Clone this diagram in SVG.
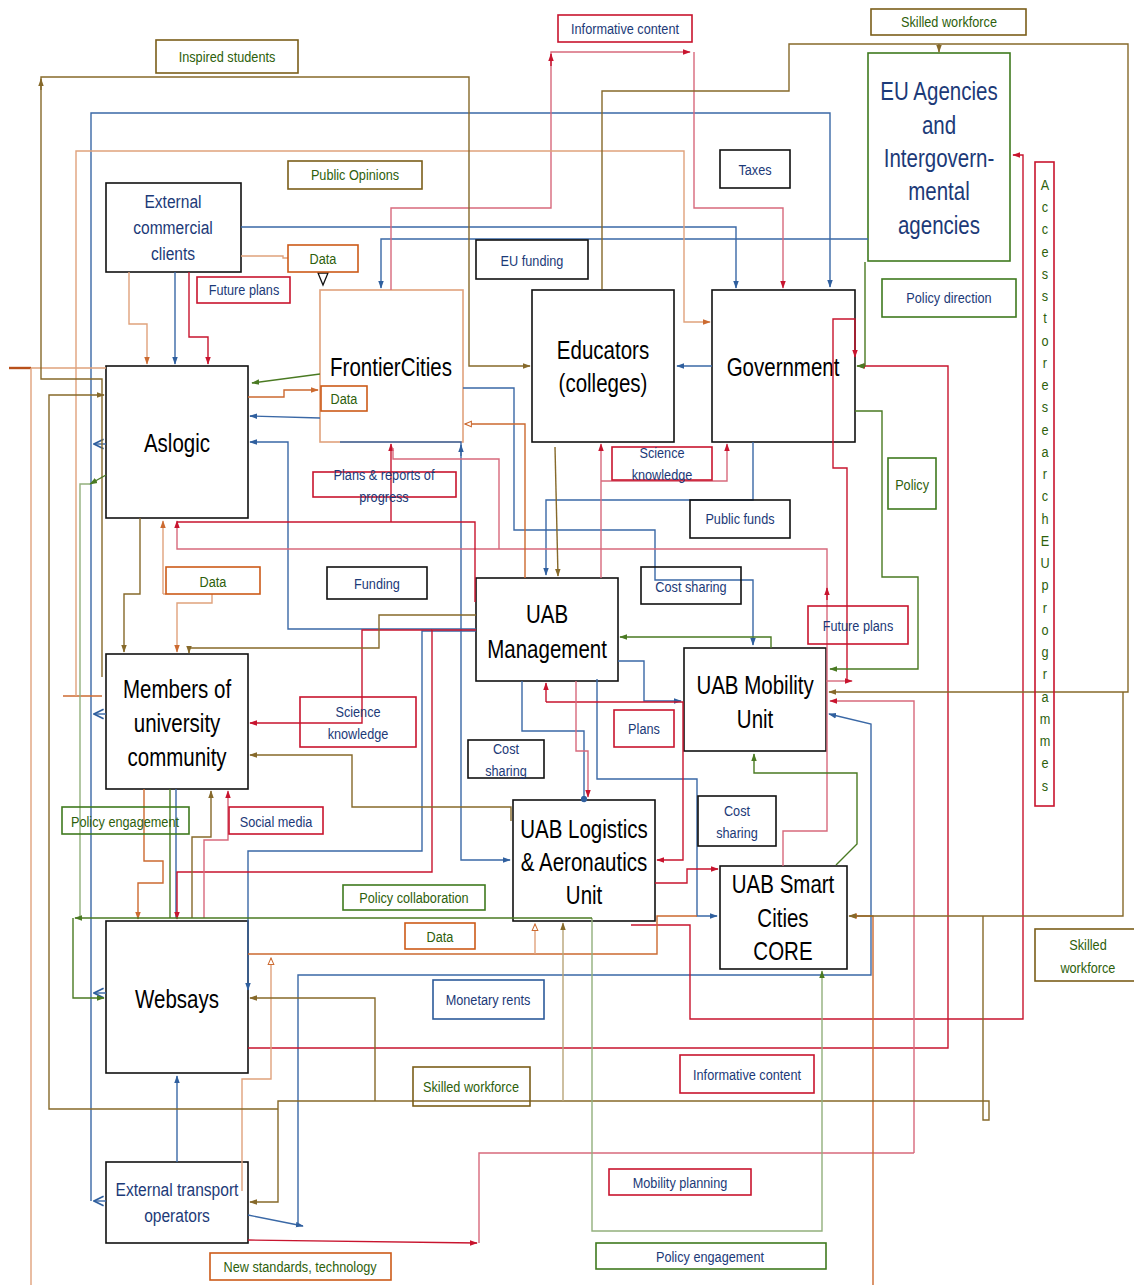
<svg xmlns="http://www.w3.org/2000/svg" width="1134" height="1285" viewBox="0 0 1134 1285">
<defs>
<style>
.n{fill:#fff;stroke:#111;stroke-width:1.6}
.t{font-family:"Liberation Sans",Arial,sans-serif;text-anchor:middle;transform-box:fill-box;transform-origin:center;transform:scaleX(0.82)}
.nt{font-size:25px;fill:#000}
.nv{fill:#1c3a78}
.gt{fill:#2e5f0c}
.lt{font-size:15.5px}
.lb{fill:none;stroke-width:1.6}
.c{fill:none;stroke-width:1.4}
.b{stroke:#3a68a6}.r{stroke:#c8142e}.rp{stroke:#d7697c}.o{stroke:#cc6a30}.op{stroke:#e0a27c}.l{stroke:#86692a}.lp{stroke:#b8a478}.g{stroke:#4a7a22}.gp{stroke:#92b07c}
</style>
<marker id="aB" viewBox="0 0 10 10" refX="9" refY="5" markerWidth="8" markerHeight="8" markerUnits="userSpaceOnUse" orient="auto"><path d="M0,1.5L10,5L0,8.5z" fill="#2f5f9e"/></marker>
<marker id="aR" viewBox="0 0 10 10" refX="9" refY="5" markerWidth="8" markerHeight="8" markerUnits="userSpaceOnUse" orient="auto"><path d="M0,1.5L10,5L0,8.5z" fill="#c8142e"/></marker>
<marker id="aO" viewBox="0 0 10 10" refX="9" refY="5" markerWidth="8" markerHeight="8" markerUnits="userSpaceOnUse" orient="auto"><path d="M0,1.5L10,5L0,8.5z" fill="#cc6a30"/></marker>
<marker id="aL" viewBox="0 0 10 10" refX="9" refY="5" markerWidth="8" markerHeight="8" markerUnits="userSpaceOnUse" orient="auto"><path d="M0,1.5L10,5L0,8.5z" fill="#86692a"/></marker>
<marker id="aG" viewBox="0 0 10 10" refX="9" refY="5" markerWidth="8" markerHeight="8" markerUnits="userSpaceOnUse" orient="auto"><path d="M0,1.5L10,5L0,8.5z" fill="#4a7a22"/></marker>
<marker id="oB" viewBox="0 0 10 10" refX="9" refY="5" markerWidth="12" markerHeight="12" markerUnits="userSpaceOnUse" orient="auto"><path d="M1,1L9,5L1,9" fill="none" stroke="#2f5f9e" stroke-width="1.4"/></marker>
<marker id="oO" viewBox="0 0 10 10" refX="9" refY="5" markerWidth="8" markerHeight="8" markerUnits="userSpaceOnUse" orient="auto"><path d="M1,1.5L9,5L1,8.5z" fill="#fff" stroke="#cc6a30" stroke-width="1.3"/></marker>
<marker id="dB" viewBox="0 0 10 10" refX="5" refY="5" markerWidth="7" markerHeight="7" markerUnits="userSpaceOnUse"><circle cx="5" cy="5" r="4.5" fill="#2f5f9e"/></marker>
</defs>
<rect width="1134" height="1285" fill="#fff"/>

<g id="node-ecc"><rect class="n" x="106" y="183" width="135" height="89"/><text class="t nv" font-size="19" x="173" y="208">External</text><text class="t nv" font-size="19" x="173" y="234">commercial</text><text class="t nv" font-size="19" x="173" y="260">clients</text></g>
<g id="node-aslogic"><rect class="n" x="106" y="366" width="142" height="152"/><text class="t nt" x="177" y="452">Aslogic</text></g>
<g id="node-frontiercities"><rect x="320" y="290" width="143" height="152" fill="#fff" stroke="#e0a27c" stroke-width="1.6"/><text class="t nt" x="391" y="376">FrontierCities</text></g>
<g id="node-educators"><rect class="n" x="532" y="290" width="142" height="152"/><text class="t nt" x="603" y="359">Educators</text><text class="t nt" x="603" y="392">(colleges)</text></g>
<g id="node-government"><rect class="n" x="712" y="290" width="143" height="152"/><text class="t nt" x="783" y="376">Government</text></g>
<g id="node-eu"><rect x="868" y="53" width="142" height="208" fill="#fff" stroke="#3f7a1e" stroke-width="1.6"/><text class="t nv" font-size="25" x="939" y="100">EU Agencies</text><text class="t nv" font-size="25" x="939" y="134">and</text><text class="t nv" font-size="25" x="939" y="167">Intergovern-</text><text class="t nv" font-size="25" x="939" y="200">mental</text><text class="t nv" font-size="25" x="939" y="234">agencies</text></g>
<g id="node-uabmgmt"><rect class="n" x="476" y="578" width="142" height="103"/><text class="t nt" x="547" y="623">UAB</text><text class="t nt" x="547" y="658">Management</text></g>
<g id="node-mobility"><rect class="n" x="684" y="648" width="142" height="103"/><text class="t nt" x="755" y="694">UAB Mobility</text><text class="t nt" x="755" y="728">Unit</text></g>
<g id="node-logistics"><rect class="n" x="513" y="800" width="142" height="121"/><text class="t nt" x="584" y="838">UAB Logistics</text><text class="t nt" x="584" y="871">&amp; Aeronautics</text><text class="t nt" x="584" y="904">Unit</text></g>
<g id="node-smartcities"><rect class="n" x="720" y="866" width="127" height="103"/><text class="t nt" x="783" y="893">UAB Smart</text><text class="t nt" x="783" y="927">Cities</text><text class="t nt" x="783" y="960">CORE</text></g>
<g id="node-members"><rect class="n" x="106" y="654" width="142" height="135"/><text class="t nt" x="177" y="698">Members of</text><text class="t nt" x="177" y="732">university</text><text class="t nt" x="177" y="766">community</text></g>
<g id="node-websays"><rect class="n" x="106" y="921" width="142" height="152"/><text class="t nt" x="177" y="1008">Websays</text></g>
<g id="node-eto"><rect class="n" x="106" y="1162" width="142" height="81"/><text class="t nv" font-size="19" x="177" y="1196">External transport</text><text class="t nv" font-size="19" x="177" y="1222">operators</text></g>

<g id="connectors">
<path class="c b" d="M91 1201V113H830V287" marker-end="url(#aB)"/>
<path class="c b" d="M106 444H94" marker-end="url(#oB)"/>
<path class="c b" d="M106 714H94" marker-end="url(#oB)"/>
<path class="c b" d="M106 993H94" marker-end="url(#oB)"/>
<path class="c b" d="M106 1201H94" marker-end="url(#oB)"/>
<path class="c b" d="M175 272V364" marker-end="url(#aB)"/>
<path class="c b" d="M241 227H736V288" marker-end="url(#aB)"/>
<path class="c b" d="M868 239H381V288" marker-end="url(#aB)"/>
<path class="c b" d="M320 418L250 416" marker-end="url(#aB)"/>
<path class="c b" d="M476 629H288V442H250" marker-end="url(#aB)"/>
<path class="c b" d="M463 388H514V530H655V580H753V645" marker-end="url(#aB)"/>
<path class="c b" d="M340 442H461V860H510" marker-end="url(#aB)"/>
<path class="c b" d="M461 456V445" marker-end="url(#aB)"/>
<path class="c b" d="M753 442V500H546V575" marker-end="url(#aB)"/>
<path class="c b" d="M712 366H677" marker-end="url(#aB)"/>
<path class="c b" d="M618 661H644V701H681" marker-end="url(#aB)"/>
<path class="c b" d="M522 681V731H584V799" marker-end="url(#dB)"/>
<path class="c b" d="M597 679V779H697V916H717" marker-end="url(#aB)"/>
<path class="c b" d="M476 631H422V851H248V990" marker-end="url(#aB)"/>
<path class="c b" d="M176 789V918"/>
<path class="c b" d="M177 1162V1076" marker-end="url(#aB)"/>
<path class="c b" d="M248 1215L303 1226" marker-end="url(#aB)"/>
<path class="c b" d="M298 1224V975H871V724L829 714" marker-end="url(#aB)"/>
<path class="c r" d="M189 272V337H208V364" marker-end="url(#aR)"/>
<path class="c rp" d="M391 290V208H551V52H690" marker-end="url(#aR)"/>
<path class="c r" d="M551 66V54" marker-end="url(#aR)"/>
<path class="c rp" d="M694 52V208H783V288" marker-end="url(#aR)"/>
<path class="c r" d="M631 925H690V1019H1023V155H1013" marker-end="url(#aR)"/>
<path class="c r" d="M248 1048H948V366H858" marker-end="url(#aR)"/>
<path class="c rp" d="M826 681H852" marker-end="url(#aR)"/>
<path class="c r" d="M847 681V468H833V319H855V357" marker-end="url(#aR)"/>
<path class="c rp" d="M783 866V831H827V549H177V521" marker-end="url(#aR)"/>
<path class="c r" d="M827 600V588" marker-end="url(#aR)"/>
<path class="c r" d="M475 602V522H177"/>
<path class="c r" d="M391 522V444" marker-end="url(#aR)"/>
<path class="c rp" d="M499 549V459H393V448"/>
<path class="c rp" d="M601 578V444" marker-end="url(#aR)"/>
<path class="c rp" d="M601 481H727V444" marker-end="url(#aR)"/>
<path class="c r" d="M546 702H683V860H657" marker-end="url(#aR)"/>
<path class="c r" d="M546 702V683" marker-end="url(#aR)"/>
<path class="c rp" d="M576 681V751H588V797" marker-end="url(#aR)"/>
<path class="c r" d="M655 883H687V869H718" marker-end="url(#aR)"/>
<path class="c r" d="M476 630H432V872H177V919" marker-end="url(#aR)"/>
<path class="c r" d="M432 630H362V723H250" marker-end="url(#aR)"/>
<path class="c rp" d="M204 918V840H228V791" marker-end="url(#aR)"/>
<path class="c rp" d="M914 1153V701H830" marker-end="url(#aR)"/>
<path class="c rp" d="M914 1153H479V1243"/>
<path class="c r" d="M248 1240L477 1243" marker-end="url(#aR)"/>
<path class="c o" d="M102 696H63"/>
<path class="c op" d="M76 696V151H684V322H710" marker-end="url(#aO)"/>
<path class="c op" d="M129 272V324H147V364" marker-end="url(#aO)"/>
<path class="c op" d="M241 256H283V258H288"/>
<path d="M318 273H328L323 285z" fill="#fff" stroke="#111" stroke-width="1.3"/>
<path d="M9 368H31" stroke="#b8501a" stroke-width="2.4"/>
<path class="c op" d="M31 368H106M31 368V1285"/>
<path class="c o" d="M248 397H284V390H318" marker-end="url(#aO)"/>
<path class="c o" d="M525 578V424H465" marker-end="url(#oO)"/>
<path class="c op" d="M163 594V521" marker-end="url(#aO)"/>
<path class="c op" d="M163 594H166"/>
<path class="c op" d="M212 594V603H177V652" marker-end="url(#aO)"/>
<path class="c o" d="M144 789V861H163V883H138V919" marker-end="url(#aO)"/>
<path class="c o" d="M873 1285V916H850" marker-end="url(#aO)"/>
<path class="c o" d="M248 954H657V916H697"/>
<path class="c op" d="M535 954V924" marker-end="url(#oO)"/>
<path class="c op" d="M242 1191V1079H271V958" marker-end="url(#oO)"/>
<path class="c l" d="M102 677V379H41V77H469V366H530" marker-end="url(#aL)"/>
<path class="c l" d="M41 90V79" marker-end="url(#aL)"/>
<path class="c l" d="M602 289V91H789V44H1128V692H829" marker-end="url(#aL)"/>
<path class="c l" d="M939 44V52" marker-end="url(#aL)"/>
<path class="c l" d="M1123 692V916H849" marker-end="url(#aL)"/>
<path class="c l" d="M983 916V1120H989V1101H278V1202H250" marker-end="url(#aL)"/>
<path class="c l" d="M278 1109H49V395H104" marker-end="url(#aL)"/>
<path class="c l" d="M375 1101V998H250" marker-end="url(#aL)"/>
<path class="c lp" d="M563 1101V923" marker-end="url(#aL)"/>
<path class="c l" d="M555 447L558 576" marker-end="url(#aL)"/>
<path class="c l" d="M140 518V594H124V652" marker-end="url(#aL)"/>
<path class="c l" d="M476 615H379V648H189V653" marker-end="url(#aL)"/>
<path class="c l" d="M511 821V807H352V755H250" marker-end="url(#aL)"/>
<path class="c l" d="M192 918V837H211V791" marker-end="url(#aL)"/>
<path class="c g" d="M865 262V366H857" marker-end="url(#aG)"/>
<path class="c g" d="M855 411H882V577H918V669H830" marker-end="url(#aG)"/>
<path class="c g" d="M320 374L252 383" marker-end="url(#aG)"/>
<path class="c g" d="M106 475L90 484" marker-end="url(#aG)"/>
<path class="c gp" d="M90 484H80V918"/>
<path class="c gp" d="M592 918V1231H822V971" marker-end="url(#aG)"/>
<path class="c g" d="M592 918H75" marker-end="url(#aG)"/>
<path class="c g" d="M73 918V998H104" marker-end="url(#aG)"/>
<path class="c g" d="M170 789V918"/>
<path class="c g" d="M771 648V637H620" marker-end="url(#aG)"/>
<path class="c g" d="M836 865L857 844V773H754V754" marker-end="url(#aG)"/>
</g>

<g id="labels">
<g id="lbl-inspired"><rect class="lb" stroke="#7b5e1a" x="156" y="40" width="142" height="33"/><text class="t gt lt" x="227" y="62">Inspired students</text></g>
<g id="lbl-info-top"><rect class="lb" stroke="#c8142e" x="558" y="15" width="134" height="27"/><text class="t nv lt" x="625" y="34">Informative content</text></g>
<g id="lbl-skilled-top"><rect class="lb" stroke="#7b5e1a" x="871" y="9" width="155" height="26"/><text class="t gt lt" x="949" y="27">Skilled workforce</text></g>
<g id="lbl-public-opinions"><rect class="lb" stroke="#7b5e1a" x="288" y="161" width="134" height="28"/><text class="t gt lt" x="355" y="180">Public Opinions</text></g>
<g id="lbl-taxes"><rect class="lb" stroke="#111" x="720" y="150" width="70" height="38"/><text class="t nv lt" x="755" y="175">Taxes</text></g>
<g id="lbl-data1"><rect class="lb" stroke="#cc5a18" x="288" y="245" width="70" height="27"/><text class="t gt lt" x="323" y="264">Data</text></g>
<g id="lbl-future1"><rect class="lb" stroke="#c8142e" x="197" y="277" width="93" height="26"/><text class="t nv lt" x="244" y="295">Future plans</text></g>
<g id="lbl-eufunding"><rect class="lb" stroke="#111" x="476" y="240" width="112" height="39"/><text class="t nv lt" x="532" y="266">EU funding</text></g>
<g id="lbl-policydir"><rect class="lb" stroke="#3f7a1e" x="882" y="279" width="134" height="38"/><text class="t nv lt" x="949" y="303">Policy direction</text></g>
<g id="lbl-access"><rect class="lb" stroke="#c8142e" x="1035" y="162" width="19" height="644"/>
<text class="t gt lt" x="1045">
<tspan x="1045" y="190">A</tspan><tspan x="1045" y="212">c</tspan><tspan x="1045" y="234">c</tspan><tspan x="1045" y="257">e</tspan><tspan x="1045" y="279">s</tspan><tspan x="1045" y="301">s</tspan><tspan x="1045" y="323">t</tspan><tspan x="1045" y="346">o</tspan><tspan x="1045" y="368">r</tspan><tspan x="1045" y="390">e</tspan><tspan x="1045" y="412">s</tspan><tspan x="1045" y="435">e</tspan><tspan x="1045" y="457">a</tspan><tspan x="1045" y="479">r</tspan><tspan x="1045" y="501">c</tspan><tspan x="1045" y="524">h</tspan><tspan x="1045" y="546">E</tspan><tspan x="1045" y="568">U</tspan><tspan x="1045" y="590">p</tspan><tspan x="1045" y="613">r</tspan><tspan x="1045" y="635">o</tspan><tspan x="1045" y="657">g</tspan><tspan x="1045" y="679">r</tspan><tspan x="1045" y="702">a</tspan><tspan x="1045" y="724">m</tspan><tspan x="1045" y="746">m</tspan><tspan x="1045" y="768">e</tspan><tspan x="1045" y="791">s</tspan></text></g>
<g id="lbl-data-fc"><rect class="lb" stroke="#cc5a18" x="321" y="386" width="46" height="25"/><text class="t gt lt" x="344" y="404">Data</text></g>
<g id="lbl-plans-reports"><rect class="lb" stroke="#c8142e" x="313" y="472" width="143" height="25"/><text class="t nv lt" x="384" y="480">Plans &amp; reports of</text><text class="t nv lt" x="384" y="502">progress</text></g>
<g id="lbl-science1"><rect class="lb" stroke="#c8142e" x="612" y="447" width="100" height="33"/><text class="t nv lt" x="662" y="458">Science</text><text class="t nv lt" x="662" y="480">knowledge</text></g>
<g id="lbl-publicfunds"><rect class="lb" stroke="#111" x="690" y="500" width="100" height="38"/><text class="t nv lt" x="740" y="524">Public funds</text></g>
<g id="lbl-policy"><rect class="lb" stroke="#3f7a1e" x="888" y="458" width="48" height="51"/><text class="t gt lt" x="912" y="490">Policy</text></g>
<g id="lbl-data2"><rect class="lb" stroke="#cc5a18" x="166" y="567" width="94" height="27"/><text class="t gt lt" x="213" y="587">Data</text></g>
<g id="lbl-funding"><rect class="lb" stroke="#111" x="327" y="567" width="100" height="32"/><text class="t nv lt" x="377" y="589">Funding</text></g>
<g id="lbl-cost1"><rect class="lb" stroke="#111" x="641" y="567" width="100" height="37"/><text class="t nv lt" x="691" y="592">Cost sharing</text></g>
<g id="lbl-future2"><rect class="lb" stroke="#c8142e" x="808" y="606" width="100" height="38"/><text class="t nv lt" x="858" y="631">Future plans</text></g>
<g id="lbl-science2"><rect class="lb" stroke="#c8142e" x="300" y="697" width="116" height="50"/><text class="t nv lt" x="358" y="717">Science</text><text class="t nv lt" x="358" y="739">knowledge</text></g>
<g id="lbl-plans"><rect class="lb" stroke="#c8142e" x="614" y="710" width="60" height="37"/><text class="t nv lt" x="644" y="734">Plans</text></g>
<g id="lbl-cost2"><rect class="lb" stroke="#111" x="468" y="740" width="76" height="38"/><text class="t nv lt" x="506" y="754">Cost</text><text class="t nv lt" x="506" y="776">sharing</text></g>
<g id="lbl-cost3"><rect class="lb" stroke="#111" x="698" y="796" width="78" height="50"/><text class="t nv lt" x="737" y="816">Cost</text><text class="t nv lt" x="737" y="838">sharing</text></g>
<g id="lbl-policyeng1"><rect class="lb" stroke="#3f7a1e" x="62" y="807" width="127" height="27"/><text class="t gt lt" x="125" y="827">Policy engagement</text></g>
<g id="lbl-social"><rect class="lb" stroke="#c8142e" x="229" y="807" width="94" height="27"/><text class="t nv lt" x="276" y="827">Social media</text></g>
<g id="lbl-policycollab"><rect class="lb" stroke="#3f7a1e" x="343" y="885" width="142" height="25"/><text class="t gt lt" x="414" y="903">Policy collaboration</text></g>
<g id="lbl-data3"><rect class="lb" stroke="#cc5a18" x="405" y="923" width="70" height="26"/><text class="t gt lt" x="440" y="942">Data</text></g>
<g id="lbl-monetary"><rect class="lb" stroke="#2c5a9a" x="433" y="980" width="111" height="39"/><text class="t nv lt" x="488" y="1005">Monetary rents</text></g>
<g id="lbl-skilled-mid"><rect class="lb" stroke="#7b5e1a" x="413" y="1067" width="117" height="39"/><text class="t gt lt" x="471" y="1092">Skilled workforce</text></g>
<g id="lbl-info-bottom"><rect class="lb" stroke="#c8142e" x="680" y="1055" width="134" height="38"/><text class="t nv lt" x="747" y="1080">Informative content</text></g>
<g id="lbl-skilled-right"><rect class="lb" stroke="#7b5e1a" x="1035" y="929" width="105" height="52"/><text class="t gt lt" x="1088" y="950">Skilled</text><text class="t gt lt" x="1088" y="973">workforce</text></g>
<g id="lbl-mobplanning"><rect class="lb" stroke="#c8142e" x="609" y="1169" width="142" height="26"/><text class="t nv lt" x="680" y="1188">Mobility planning</text></g>
<g id="lbl-policyeng2"><rect class="lb" stroke="#3f7a1e" x="596" y="1243" width="230" height="26"/><text class="t nv lt" x="710" y="1262">Policy engagement</text></g>
<g id="lbl-newstd"><rect class="lb" stroke="#cc5a18" x="210" y="1253" width="181" height="27"/><text class="t gt lt" x="300" y="1272">New standards, technology</text></g>
</g>
</svg>
